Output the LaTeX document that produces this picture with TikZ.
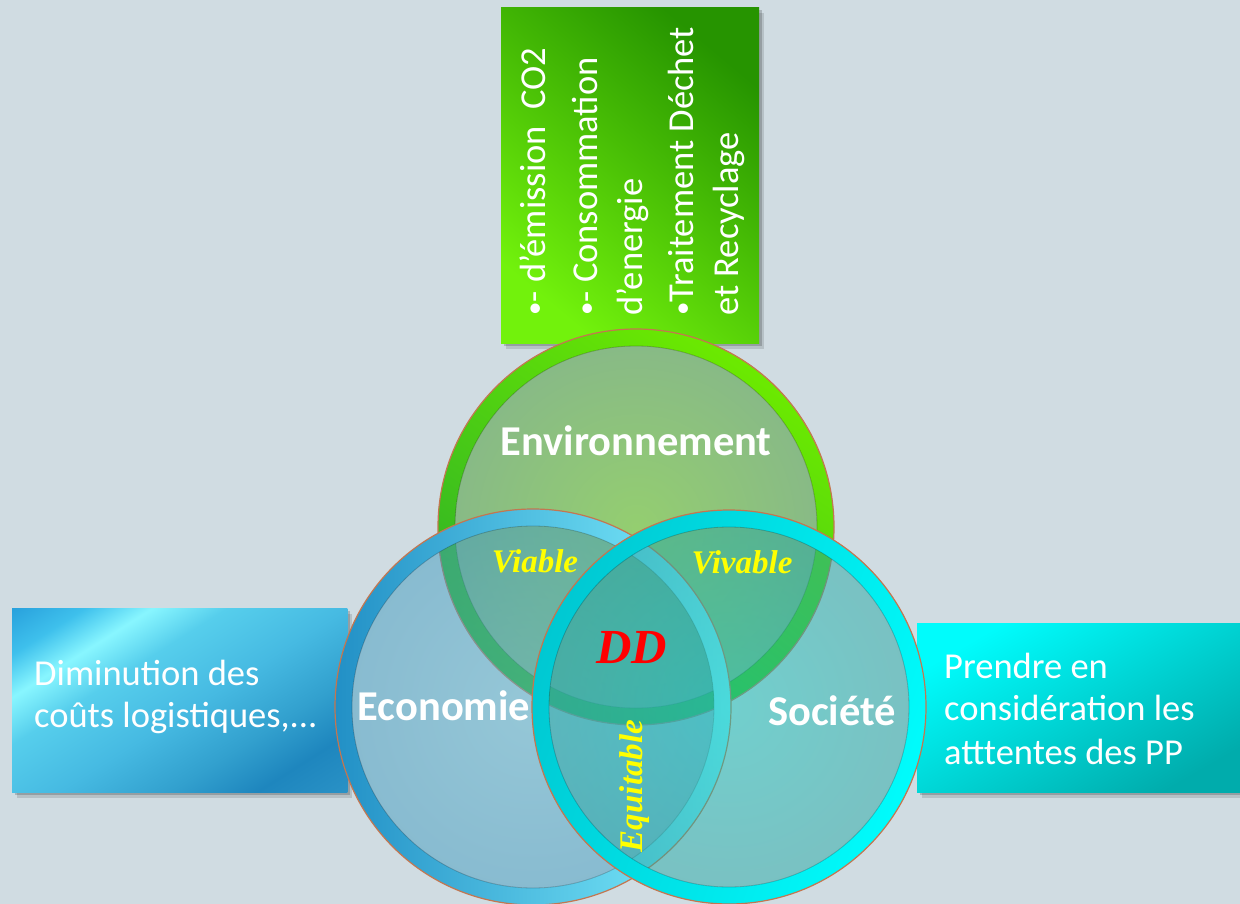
\documentclass[tikz,border=0pt]{standalone}
\usepackage{fontspec}
\setmainfont{Carlito}
\newfontfamily\lblserif{Liberation Serif}
\usetikzlibrary{shadows}
\definecolor{bg}{RGB}{208,220,226}
\definecolor{gboxdark}{RGB}{38,148,0}
\definecolor{gboxlight}{RGB}{114,242,12}
\definecolor{lbA}{RGB}{40,160,220}
\definecolor{lbB}{RGB}{62,192,236}
\definecolor{lbC}{RGB}{136,246,255}
\definecolor{lbD}{RGB}{86,206,236}
\definecolor{lbE}{RGB}{70,186,226}
\definecolor{lbF}{RGB}{50,160,206}
\definecolor{lbG}{RGB}{30,134,190}
\definecolor{lbH}{RGB}{42,146,198}
\definecolor{rbtop}{RGB}{0,252,252}
\definecolor{rbbot}{RGB}{0,172,172}
\definecolor{envIn}{RGB}{148,206,112}
\definecolor{envOut}{RGB}{136,186,134}
\definecolor{envRingA}{RGB}{108,234,0}
\definecolor{envRingB}{RGB}{44,176,40}
\definecolor{ecoIn}{RGB}{92,180,206}
\definecolor{ecoOut}{RGB}{66,156,192}
\definecolor{ecoRingA}{RGB}{34,144,198}
\definecolor{ecoRingB}{RGB}{130,242,255}
\definecolor{socIn}{RGB}{20,196,186}
\definecolor{socOut}{RGB}{36,168,164}
\definecolor{socRingA}{RGB}{0,200,210}
\definecolor{socRingB}{RGB}{0,252,252}
\definecolor{rim}{RGB}{196,118,80}
\definecolor{lblyellow}{RGB}{255,255,0}
\definecolor{ddred}{RGB}{255,0,0}
\pgfdeclarehorizontalshading{leftboxshade}{400bp}{color(0bp)=(lbA); color(32bp)=(lbA); color(72bp)=(lbB); color(108bp)=(lbC); color(148bp)=(lbD); color(212bp)=(lbE); color(272bp)=(lbF); color(318bp)=(lbG); color(368bp)=(lbH); color(400bp)=(lbH)}
\newcommand\smbul{\raisebox{.06em}{\fontsize{27}{27}\selectfont •}}
\tikzset{
  boxshadow/.style={drop shadow={shadow xshift=2.5pt,shadow yshift=-3pt,opacity=.18,fill=black},
                    drop shadow={shadow xshift=5pt,shadow yshift=-5.5pt,opacity=.12,fill=black}},
  panel/.style={rectangle, inner sep=0pt, anchor=north west, boxshadow},
  boxtext/.style={text=white, font=\fontsize{36.5}{42}\selectfont, inner sep=0pt},
  ringtitle/.style={text=white, font=\bfseries\fontsize{42.5}{50}\selectfont, inner sep=0pt, anchor=base},
  zonelabel/.style={text=lblyellow, font=\lblserif\bfseries\itshape\fontsize{33}{40}\selectfont, inner sep=0pt, anchor=base},
  rimline/.style={draw=rim, line width=1.2pt},
  innerline/.style={draw=black, draw opacity=.22, line width=.8pt},
}
\begin{document}
\begin{tikzpicture}[x=1pt,y=-1pt]
\useasboundingbox (0,0) rectangle (1240,904);
\fill[bg] (0,0) rectangle (1240,904);
% panels
\node[panel, minimum width=258pt, minimum height=336pt, top color=gboxdark, bottom color=gboxlight, shading angle=-40] (envpanel) at (501,7) {};
\node[panel, fill=lbF, minimum width=335pt, minimum height=184pt] (ecopanel) at (12,608) {};
\begin{scope}
  \clip (ecopanel.north west) rectangle (ecopanel.south east);
  \node[rotate=-57.6, inner sep=0pt] (ecoshade) at (ecopanel.center) {\pgfuseshading{leftboxshade}};
\end{scope}
\node[panel, minimum width=330pt, minimum height=169pt, top color=rbtop, bottom color=rbbot, shading angle=30] (socpanel) at (917,623) {};
% panel texts
\node[boxtext, rotate=90, anchor=base west] (envl1) at (545,316) {\smbul- d’émission~~CO2};
\node[boxtext, rotate=90, anchor=base west] (envl2) at (597,316) {\smbul- Consommation};
\node[boxtext, rotate=90, anchor=base west] (envl3) at (642,316) {d’energie};
\node[boxtext, rotate=90, anchor=base west] (envl4) at (693,316) {\smbul Traitement Déchet};
\node[boxtext, rotate=90, anchor=base west] (envl5) at (738,316) {et Recyclage};
\node[boxtext, anchor=base west] (ecol1) at (34,685) {Diminution des};
\node[boxtext, anchor=base west] (ecol2) at (34,727) {coûts logistiques,...};
\node[boxtext, anchor=base west] (socl1) at (944,678) {Prendre en};
\node[boxtext, anchor=base west] (socl2) at (944,720) {considération les};
\node[boxtext, anchor=base west] (socl3) at (944,764) {atttentes des PP};
% circles
\coordinate (envc) at (636,527);
\coordinate (ecoc) at (533,707);
\coordinate (socc) at (729,707);
% Environnement
\shade[inner color=envIn, outer color=envOut] (envc) circle[radius=181pt];
\shade[even odd rule, top color=envRingA, bottom color=envRingB, shading angle=-35] (envc) circle[radius=198pt] (envc) circle[radius=181pt];
\draw[rimline] (envc) circle[radius=198pt];
\draw[innerline] (envc) circle[radius=181pt];
% Economie
\shade[inner color=ecoIn, outer color=ecoOut, opacity=.5] (ecoc) circle[radius=181pt];
\shade[even odd rule, left color=ecoRingA, right color=ecoRingB] (ecoc) circle[radius=198pt] (ecoc) circle[radius=181pt];
\draw[rimline] (ecoc) circle[radius=198pt];
\draw[innerline] (ecoc) circle[radius=181pt];
% Societe
\shade[inner color=socIn, outer color=socOut, opacity=.5] (socc) circle[radius=180pt];
\shade[even odd rule, left color=socRingA, right color=socRingB, shading angle=70] (socc) circle[radius=197pt] (socc) circle[radius=180pt];
\draw[rimline] (socc) circle[radius=197pt];
\draw[innerline] (socc) circle[radius=180pt];
% labels
\node[ringtitle] (envt) at (636,455) {Environnement};
\node[ringtitle] (ecot) at (444,720) {Economie};
\node[ringtitle] (soct) at (832,725) {Société};
\node[zonelabel] (viable) at (535,572) {Viable};
\node[zonelabel] (vivable) at (742,573) {Vivable};
\node[zonelabel, rotate=90] (equit) at (642,786) {Equitable};
\node[zonelabel, text=ddred, font=\lblserif\bfseries\itshape\fontsize{49}{56}\selectfont] (dd) at (632,663) {DD};
\end{tikzpicture}
\end{document}
